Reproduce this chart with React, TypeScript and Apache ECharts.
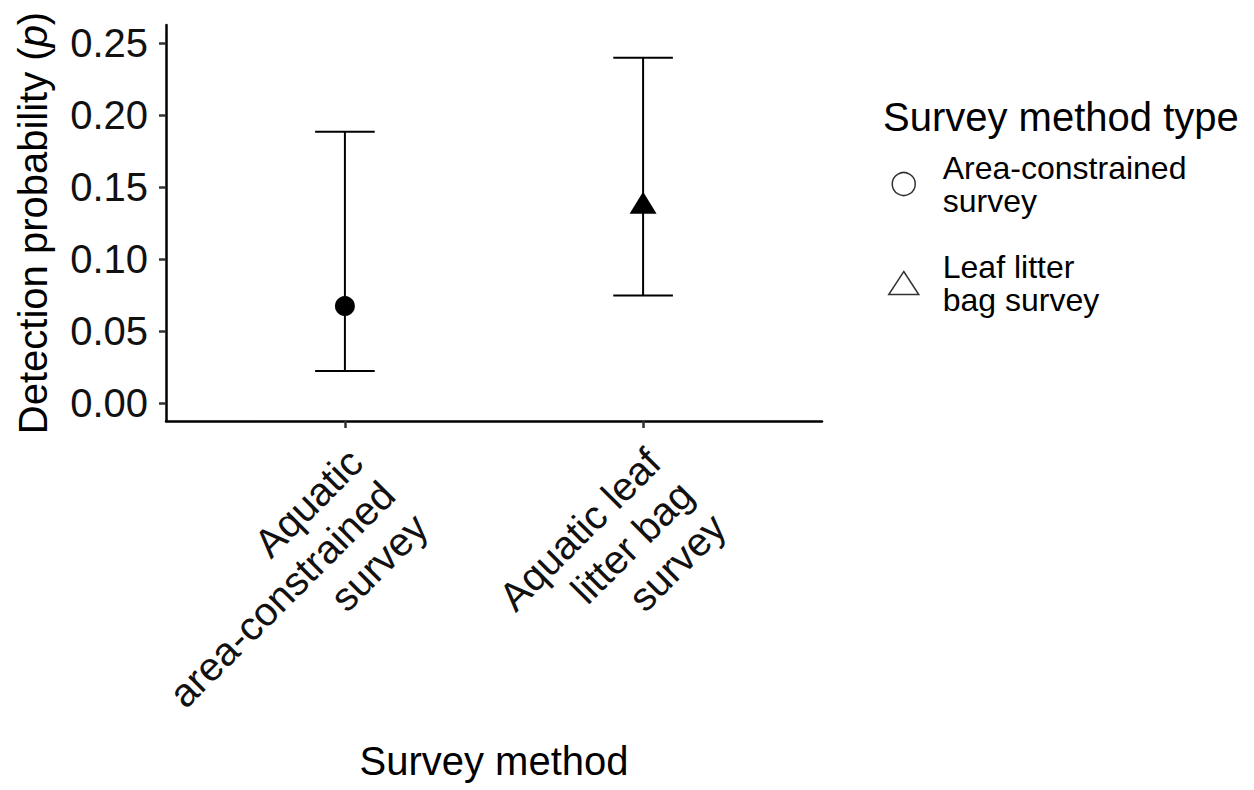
import React, { useEffect, useRef } from "react";
import * as echarts from "echarts";

const categories = [
  "Aquatic\narea-constrained\nsurvey",
  "Aquatic leaf\nlitter bag\nsurvey",
];
const categoryPositions = [1, 2];
const methodTypes = ["Area-constrained survey", "Leaf litter bag survey"];
const legendLabels = ["Area-constrained\nsurvey", "Leaf litter\nbag survey"];
const estimates = [0.0673, 0.139];
const lowerCI = [0.0223, 0.0746];
const upperCI = [0.1883, 0.2398];
const yTicks = [0, 0.05, 0.1, 0.15, 0.2, 0.25];
const Y_MIN = -0.0125;
const Y_MAX = 0.2625;

const FONT = "'Liberation Sans', Arial, Helvetica, sans-serif";

export default function App() {
  const ref = useRef<HTMLDivElement>(null);

  useEffect(() => {
    document.body.style.margin = "0";
    if (!ref.current) return;
    const chart = echarts.init(ref.current, null, { renderer: "svg" });

    const errorData = categoryPositions.map((x, i) => [x, lowerCI[i], upperCI[i]]);

    const option: any = {
      animation: false,
      backgroundColor: "#ffffff",
      textStyle: { fontFamily: FONT },
      title: {
        text: "Survey method type",
        left: 883,
        top: 97,
        padding: 0,
        textStyle: { fontFamily: FONT, fontSize: 40, fontWeight: "normal", color: "#000" },
      },
      legend: {
        orient: "vertical",
        left: 888,
        top: 151,
        padding: 0,
        itemWidth: 30,
        itemHeight: 23,
        itemGap: 33,
        selectedMode: false,
        formatter: (name: string) => legendLabels[methodTypes.indexOf(name)],
        textStyle: {
          fontFamily: FONT,
          fontSize: 32,
          lineHeight: 33,
          color: "#000",
          padding: [0, 0, 0, 19],
        },
        data: [
          {
            name: methodTypes[0],
            icon: "circle",
            itemStyle: { color: "#fff", borderColor: "#333", borderWidth: 1.5, opacity: 1 },
          },
          {
            name: methodTypes[1],
            icon: "triangle",
            itemStyle: { color: "#fff", borderColor: "#333", borderWidth: 1.5, opacity: 1 },
          },
        ],
      },
      grid: {
        left: 166,
        right: 432,
        top: 25,
        bottom: 369,
        containLabel: false,
        outerBoundsMode: "none",
      },
      xAxis: {
        type: "value",
        min: 0.4,
        max: 2.6,
        name: "Survey method",
        nameLocation: "middle",
        nameGap: 320,
        nameTextStyle: { fontFamily: FONT, fontSize: 40, color: "#000" },
        splitLine: { show: false },
        axisLine: { show: true, onZero: false, lineStyle: { color: "#000", width: 2.5 } },
        axisTick: {
          show: true,
          length: 7,
          customValues: categoryPositions,
          lineStyle: { color: "#333", width: 2.5 },
        },
        axisLabel: { show: false },
      },
      yAxis: {
        type: "value",
        min: Y_MIN,
        max: Y_MAX,
        name: "Detection probability ({it|p})",
        nameLocation: "middle",
        nameGap: 113,
        nameTextStyle: {
          fontFamily: FONT,
          fontSize: 40,
          color: "#000",
          rich: { it: { fontFamily: FONT, fontSize: 40, fontStyle: "italic", color: "#000" } },
        },
        splitLine: { show: false },
        axisLine: { show: true, onZero: false, lineStyle: { color: "#000", width: 2.5 } },
        axisTick: {
          show: true,
          length: 7,
          customValues: yTicks,
          lineStyle: { color: "#333", width: 2.5 },
        },
        axisLabel: {
          customValues: yTicks,
          margin: 18,
          fontFamily: FONT,
          fontSize: 40,
          color: "#111",
          formatter: (v: number) => v.toFixed(2),
        },
      },
      series: [
        {
          type: "custom",
          name: "errorbars",
          silent: true,
          data: errorData,
          encode: { x: 0, y: [1, 2] },
          renderItem: (params: any, api: any) => {
            const x = api.value(0);
            const lo = api.value(1);
            const hi = api.value(2);
            const pLo = api.coord([x, lo]);
            const pHi = api.coord([x, hi]);
            const capL = api.coord([x - 0.1, lo]);
            const capR = api.coord([x + 0.1, lo]);
            const capL2 = api.coord([x - 0.1, hi]);
            const capR2 = api.coord([x + 0.1, hi]);
            const style = { stroke: "#000", lineWidth: 2 };
            return {
              type: "group",
              children: [
                { type: "line", shape: { x1: pLo[0], y1: pLo[1], x2: pHi[0], y2: pHi[1] }, style },
                { type: "line", shape: { x1: capL[0], y1: capL[1], x2: capR[0], y2: capR[1] }, style },
                { type: "line", shape: { x1: capL2[0], y1: capL2[1], x2: capR2[0], y2: capR2[1] }, style },
              ],
            };
          },
          z: 1,
        },
        {
          type: "scatter",
          name: methodTypes[0],
          symbol: "circle",
          symbolSize: 20,
          itemStyle: { color: "#000", opacity: 1 },
          data: [[categoryPositions[0], estimates[0]]],
          z: 3,
        },
        {
          type: "scatter",
          name: methodTypes[1],
          symbol: "triangle",
          symbolSize: [27, 22],
          itemStyle: { color: "#000", opacity: 1 },
          data: [[categoryPositions[1], estimates[1]]],
          z: 3,
        },
      ],
    };

    chart.setOption(option);

    // Rotated, right-aligned multi-line category labels placed from the axis scale
    const labelGraphics = categoryPositions.map((c, i) => {
      const p = chart.convertToPixel({ gridIndex: 0 }, [c, Y_MIN]) as number[];
      return {
        type: "text",
        x: p[0] + 43,
        y: p[1] + 67,
        rotation: Math.PI / 4,
        silent: true,
        style: {
          text: categories[i],
          fontFamily: FONT,
          fontSize: 40,
          lineHeight: 46,
          fill: "#111",
          align: "right",
          verticalAlign: "middle",
        },
      };
    });
    chart.setOption({ graphic: labelGraphics });

    return () => chart.dispose();
  }, []);

  return <div ref={ref} style={{ width: 1254, height: 790 }} />;
}
